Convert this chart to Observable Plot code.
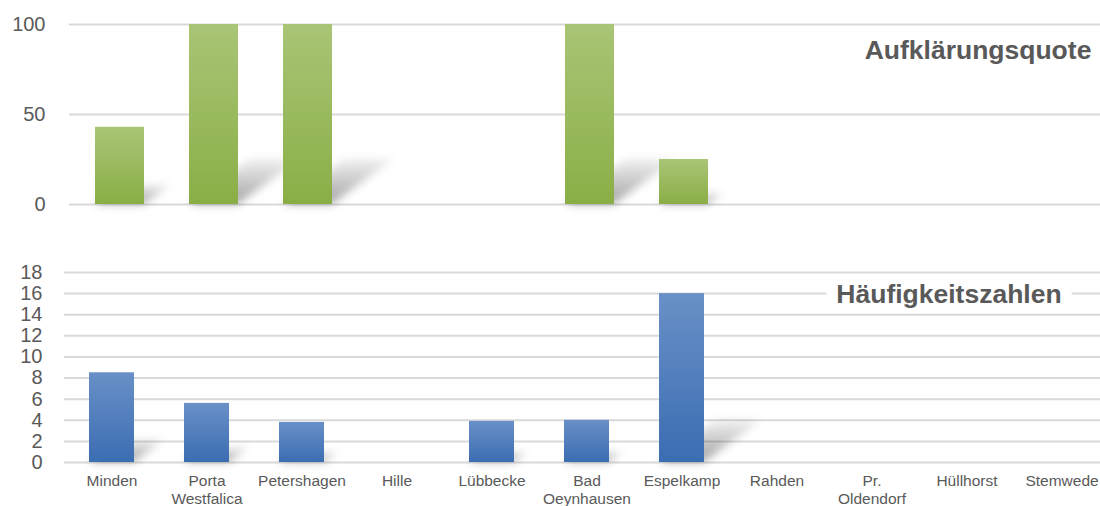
<!DOCTYPE html>
<html>
<head>
<meta charset="utf-8">
<script src="https://cdn.jsdelivr.net/npm/d3@7"></script>
<script src="https://cdn.jsdelivr.net/npm/@observablehq/plot@0.6"></script>
<style>
  html, body { margin: 0; padding: 0; background: #fff; overflow: hidden; }
  #chart svg { display: block; }
</style>
</head>
<body>
<div id="chart"></div>
<script>
// Towns of the district, left to right
const towns = ["Minden", "Porta Westfalica", "Petershagen", "Hille", "Lübbecke",
  "Bad Oeynhausen", "Espelkamp", "Rahden", "Pr. Oldendorf", "Hüllhorst", "Stemwede"];

// Clearance rate in percent
const clearanceRate = [42.9, 100, 100, 0, 0, 100, 25, 0, 0, 0, 0];

// Frequency numbers (cases per 100,000 inhabitants)
const frequency = [8.5, 5.6, 3.8, 0, 3.9, 4.0, 16.0, 0, 0, 0, 0];

// Tick values of both value axes
const clearanceTicks = [0, 50, 100];
const frequencyTicks = [0, 2, 4, 6, 8, 10, 12, 14, 16, 18];

// Panel titles
const titles = ["Aufklärungsquote", "Häufigkeitszahlen"];

const font = "'Liberation Sans', Arial, Helvetica, sans-serif";
const textColor = "#595959";
const gridColor = "#d9d9d9";
const W = 1100;

const clearanceData = towns.map((town, i) => ({town, value: clearanceRate[i]}));
const frequencyData = towns.map((town, i) => ({town, value: frequency[i]}));

const ns = "http://www.w3.org/2000/svg";

// Gradients for the bars and the soft, fading cast shadow
function addDefs(svg, key, top, bottom) {
  const defs = d3.select(svg).insert("defs", ":first-child");
  const bar = defs.append("linearGradient").attr("id", `bar-${key}`)
    .attr("x1", 0).attr("y1", 0).attr("x2", 0).attr("y2", 1);
  bar.append("stop").attr("offset", "0%").attr("stop-color", top);
  bar.append("stop").attr("offset", "100%").attr("stop-color", bottom);
  const fade = defs.append("linearGradient").attr("id", `fade-${key}`)
    .attr("x1", 0).attr("y1", 0).attr("x2", 0).attr("y2", 1);
  fade.append("stop").attr("offset", "0%").attr("stop-color", "#000").attr("stop-opacity", 0.06);
  fade.append("stop").attr("offset", "100%").attr("stop-color", "#000").attr("stop-opacity", 0.36);
  const blur = defs.append("filter").attr("id", `blur-${key}`)
    .attr("x", "-10%").attr("y", "-40%").attr("width", "120%").attr("height", "180%");
  blur.append("feGaussianBlur").attr("stdDeviation", 4);
}

// Lay the first bar layer (the shadow) down behind the bars, leaning back to the right
function castShadow(svg, key, baseline) {
  const g = svg.querySelectorAll('g[aria-label="bar"]')[0];
  if (!g) return;
  const a = 0.34, b = 0.25;
  const prev = g.getAttribute("transform") || "";
  g.setAttribute("transform",
    `matrix(1,0,${-a},${b},${a * baseline},${(1 - b) * baseline}) ${prev}`);
  const wrap = document.createElementNS(ns, "g");
  wrap.setAttribute("filter", `url(#blur-${key})`);
  g.parentNode.insertBefore(wrap, g);
  wrap.appendChild(g);
}

// Paint a white band behind a title so the grid line running through it is interrupted
function knockOutGrid(svg, pad) {
  const g = svg.querySelector('g[aria-label="text"]');
  if (!g) return;
  const box = g.getBBox(); // in the group's own (offset) coordinates
  const rect = document.createElementNS(ns, "rect");
  rect.setAttribute("x", box.x - pad);
  rect.setAttribute("width", box.width + 2 * pad);
  rect.setAttribute("y", box.y + 4);
  rect.setAttribute("height", Math.max(0, box.height - 12));
  rect.setAttribute("fill", "#fff");
  rect.setAttribute("stroke", "none");
  g.insertBefore(rect, g.firstChild);
}

// Upper panel: clearance rate
const topH = 230, topMT = 24, topMB = 26;
const topChart = Plot.plot({
  width: W,
  height: topH,
  marginTop: topMT,
  marginBottom: topMB,
  marginLeft: 69,
  marginRight: 0,
  style: {fontFamily: font, color: textColor, background: "#fff", overflow: "hidden"},
  x: {domain: towns, range: [69, 1110], paddingInner: 0.48, paddingOuter: 0.24, axis: null},
  y: {domain: [0, 100], nice: false},
  marks: [
    Plot.ruleY(clearanceTicks, {stroke: gridColor, strokeWidth: 2}),
    Plot.axisY(clearanceTicks, {tickSize: 0, tickPadding: 24, fontSize: 20, label: null}),
    Plot.barY(clearanceData, {x: "town", y: "value", fill: "url(#fade-top)"}),
    Plot.barY(clearanceData, {x: "town", y: "value", fill: "url(#bar-top)"}),
    Plot.text([titles[0]], {
      text: d => d, frameAnchor: "top-right", textAnchor: "middle", lineAnchor: "middle",
      dx: -122.5, dy: 26, fontSize: 26.5, fontWeight: "bold", fill: textColor
    })
  ]
});
addDefs(topChart, "top", "#a9c576", "#8aae46");
castShadow(topChart, "top", topH - topMB);

// Lower panel: frequency numbers
const botH = 276, botMT = 42, botMB = 44;
const bottomChart = Plot.plot({
  width: W,
  height: botH,
  marginTop: botMT,
  marginBottom: botMB,
  marginLeft: 64,
  marginRight: 0,
  style: {fontFamily: font, color: textColor, background: "#fff", overflow: "hidden"},
  x: {domain: towns, range: [64, 1109], paddingInner: 0.526, paddingOuter: 0.263},
  y: {domain: [0, 18], nice: false},
  marks: [
    Plot.ruleY(frequencyTicks, {stroke: gridColor, strokeWidth: 2}),
    Plot.axisY(frequencyTicks, {tickSize: 0, tickPadding: 22, fontSize: 20, label: null}),
    Plot.axisX({
      tickSize: 0, tickPadding: 11, fontSize: 15.5, lineHeight: 1.16, label: null,
      tickFormat: d => d.replace(" ", "\n")
    }),
    Plot.barY(frequencyData, {x: "town", y: "value", fill: "url(#fade-bot)"}),
    Plot.barY(frequencyData, {x: "town", y: "value", fill: "url(#bar-bot)"}),
    Plot.text([titles[1]], {
      text: d => d, frameAnchor: "top-right", textAnchor: "middle", lineAnchor: "middle",
      dx: -151.5, dy: 22.5, fontSize: 26.5, fontWeight: "bold", fill: textColor
    })
  ]
});
addDefs(bottomChart, "bot", "#6990c7", "#3b6db2");
castShadow(bottomChart, "bot", botH - botMB);

document.getElementById("chart").append(topChart, bottomChart);
knockOutGrid(bottomChart, 10);
</script>
</body>
</html>
